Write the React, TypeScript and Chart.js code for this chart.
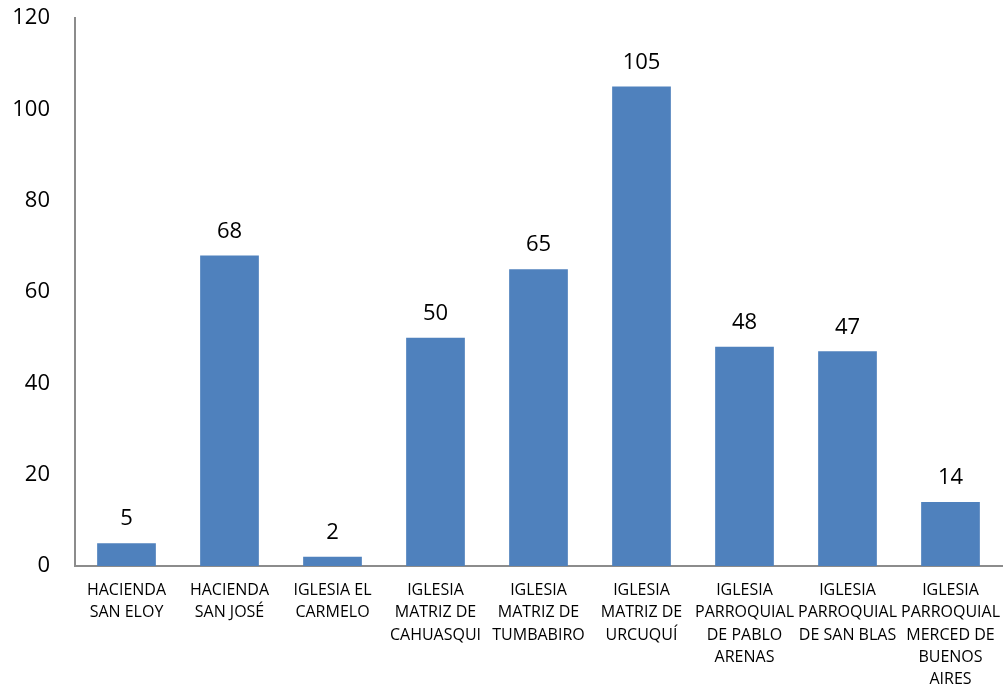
import React, { useEffect, useRef } from "react";
import { Chart, registerables } from "chart.js";

Chart.register(...registerables);

const categories: string[][] = [
  ["HACIENDA", "SAN ELOY"],
  ["HACIENDA", "SAN JOSÉ"],
  ["IGLESIA EL", "CARMELO"],
  ["IGLESIA", "MATRIZ DE", "CAHUASQUI"],
  ["IGLESIA", "MATRIZ DE", "TUMBABIRO"],
  ["IGLESIA", "MATRIZ DE", "URCUQUÍ"],
  ["IGLESIA", "PARROQUIAL", "DE PABLO", "ARENAS"],
  ["IGLESIA", "PARROQUIAL", "DE SAN BLAS"],
  ["IGLESIA", "PARROQUIAL", "MERCED DE", "BUENOS", "AIRES"],
];
const values: number[] = [5, 68, 2, 50, 65, 105, 48, 47, 14];
const yTicks: number[] = [0, 20, 40, 60, 80, 100, 120];

const FONT = "'Open Sans', 'Noto Sans', sans-serif";

const valueLabels = {
  id: "valueLabels",
  afterDatasetsDraw(chart: any) {
    const ctx = chart.ctx;
    const meta = chart.getDatasetMeta(0);
    ctx.save();
    ctx.font = `22px ${FONT}`;
    ctx.fillStyle = "#000";
    ctx.textAlign = "center";
    ctx.textBaseline = "bottom";
    meta.data.forEach((bar: any, i: number) => {
      ctx.fillText(String(values[i]), bar.x, bar.y - 13);
    });
    ctx.restore();
  },
};

export default function App() {
  const ref = useRef<HTMLCanvasElement>(null);
  useEffect(() => {
    const chart = new Chart(ref.current!, {
      type: "bar",
      data: {
        labels: categories,
        datasets: [
          {
            data: values,
            backgroundColor: "#4F81BD",
            borderWidth: 0,
            barPercentage: 0.57,
            categoryPercentage: 1,
          },
        ],
      },
      options: {
        animation: false,
        responsive: false,
        maintainAspectRatio: false,
        layout: { padding: { top: 18, right: 2, left: 0, bottom: 0 } },
        plugins: { legend: { display: false }, tooltip: { enabled: false } },
        scales: {
          x: {
            grid: { display: false, drawTicks: false },
            border: { display: true, color: "#8C8C8C", width: 2 },
            ticks: {
              color: "#000",
              font: { family: FONT, size: 16, lineHeight: 1.4 },
              padding: 13,
              maxRotation: 0,
              autoSkip: false,
            },
            afterFit: (s: any) => {
              s.height = 126;
              s.paddingLeft = 0;
              s.paddingRight = 0;
            },
          },
          y: {
            min: 0,
            max: 120,
            afterBuildTicks: (s: any) => {
              s.ticks = yTicks.map((v) => ({ value: v }));
            },
            grid: { display: false, drawTicks: false },
            border: { display: true, color: "#8C8C8C", width: 2 },
            ticks: {
              color: "#000",
              font: { family: FONT, size: 22 },
              padding: 25,
            },
            afterFit: (s: any) => {
              s.width = 75;
              s.paddingTop = 0;
              s.paddingBottom = 0;
            },
          },
        },
      },
      plugins: [valueLabels],
    });
    return () => chart.destroy();
  }, []);
  return (
    <div style={{ position: "fixed", left: 0, top: 0, width: 1004, height: 692, background: "#fff" }}>
      <canvas ref={ref} width={1004} height={692} style={{ width: 1004, height: 692 }} />
    </div>
  );
}
